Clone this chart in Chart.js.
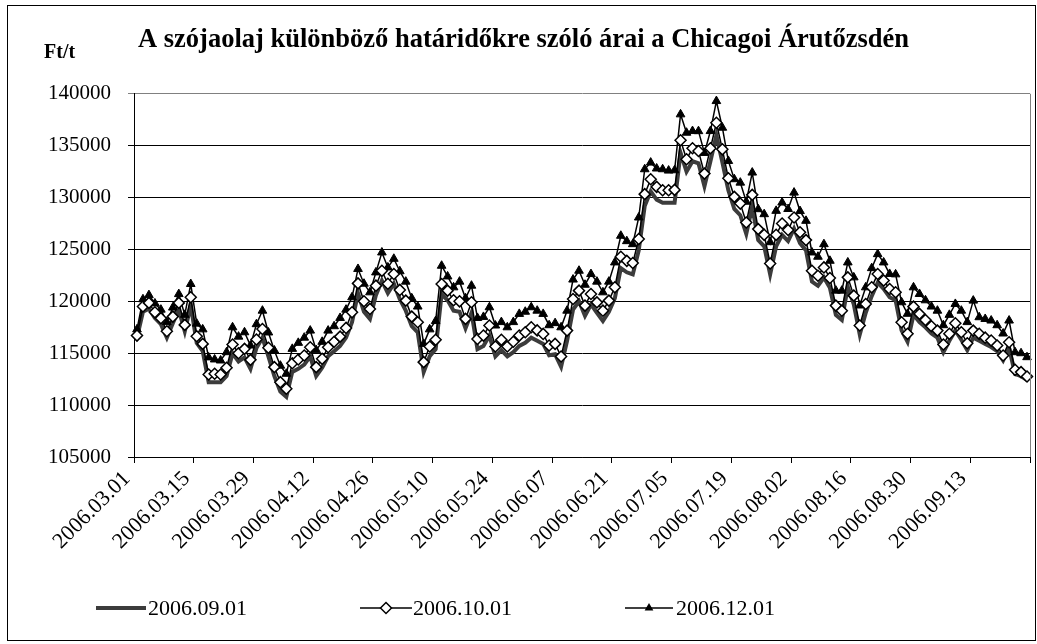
<!DOCTYPE html>
<html>
<head>
<meta charset="utf-8">
<title>Szójaolaj határidős árak</title>
<script src="https://cdn.jsdelivr.net/npm/chart.js@4.4.0/dist/chart.umd.min.js"></script>
<style>
  html, body { margin: 0; padding: 0; background: #fff; }
  canvas { display: block; }
</style>
</head>
<body>
<canvas id="chart" width="1037" height="644"></canvas>
<script>
const FONT = "'Liberation Serif', 'Times New Roman', serif";

// trading days (weekdays) from 2006.03.01, 150 of them
const dates = [];
(function () {
    const d = new Date(Date.UTC(2006, 2, 1));
    const pad = n => (n < 10 ? '0' : '') + n;
    while (dates.length < 150) {
        const wd = d.getUTCDay();
        if (wd !== 0 && wd !== 6) {
            dates.push(d.getUTCFullYear() + '.' + pad(d.getUTCMonth() + 1) + '.' + pad(d.getUTCDate()));
        }
        d.setUTCDate(d.getUTCDate() + 1);
    }
})();

const seriesNames = ['2006.09.01', '2006.10.01', '2006.12.01'];

// Ft/t
const sep01 = [
    116500, 119000, 119300, 118400, 117800, 116500, 117900, 119200, 117100, 119600,
    116000, 115200, 112200, 112200, 112200, 112800, 115000, 114200, 114600, 113500,
    115500, 116500, 114700, 112800, 111300, 110800, 113200, 113500, 113900, 114700,
    112800, 113600, 114700, 115200, 115700, 116500, 118000, 120800, 119000, 118300,
    120600, 122000, 120800, 121700, 120200, 119100, 117600, 117000, 113200, 114700,
    115400, 120700, 120100, 119100, 119000, 117400, 118900, 115400, 115700, 116700,
    114700, 115300, 114700, 115100, 115700, 116000, 116500, 116200, 115900, 114800,
    114900, 113700, 116200, 119200, 120000, 118600, 119700, 118900, 118100, 119000,
    120300, 123200, 122800, 122600, 124900, 129200, 130600, 129800, 129500, 129500,
    129500, 134300, 132500, 133500, 133300, 131100, 133500, 136000, 133400, 130700,
    128900, 128300, 126500, 129100, 125900, 125300, 122600, 125300, 126400, 125800,
    127000, 125600, 124900, 121900, 121500, 122300, 121300, 118700, 118200, 121400,
    119700, 116800, 118900, 120500, 121800, 121200, 120400, 120100, 117200, 116100,
    118700, 118000, 117500, 116900, 116500, 115100, 116200, 117200, 116300, 115300,
    116500, 116200, 115900, 115600, 115200, 114300, 115500, 113000, 112800, 112400
];

const oct01 = [
    116700, 119500, 119850, 118940, 118370, 117120, 118530, 119850, 117730, 120390,
    116640, 115900, 112950, 113020, 112950, 113600, 115840, 115000, 115420, 114360,
    116320, 117340, 115520, 113660, 112210, 111580, 114040, 114400, 114780, 115580,
    113660, 114460, 115580, 116100, 116600, 117440, 118940, 121730, 120000, 119270,
    121510, 122940, 121700, 122640, 121100, 120070, 118530, 117980, 114140, 115650,
    116290, 121670, 121030, 120100, 120000, 118310, 119910, 116380, 116700, 117670,
    115650, 116290, 115650, 116100, 116700, 117020, 117500, 117200, 116860, 115740,
    115900, 114680, 117180, 120230, 121030, 119590, 120710, 119900, 119100, 120070,
    121350, 124300, 123900, 123700, 126000, 130330, 131770, 131030, 130710, 130700,
    130740, 135520, 133690, 134750, 134490, 132310, 134750, 137210, 134650, 131860,
    130070, 129420, 127600, 130260, 126960, 126410, 123650, 126410, 127500, 126870,
    128080, 126650, 125900, 122950, 122470, 123270, 122250, 119590, 119100, 122310,
    120550, 117670, 119750, 121350, 122640, 122000, 121190, 120870, 117980, 116870,
    119490, 118790, 118200, 117600, 117180, 115840, 116870, 117890, 117020, 115960,
    117180, 116870, 116500, 116220, 115740, 114780, 116060, 113400, 113180, 112760
];

const dec01 = [
    117300, 120200, 120600, 119800, 119200, 118000, 119400, 120700, 118700, 121670,
    117850, 117300, 114600, 114400, 114300, 115100, 117500, 116600, 117020, 115740,
    117800, 119100, 117000, 115260, 113800, 113020, 115420, 116000, 116500, 117180,
    115300, 116100, 117180, 117600, 118400, 119200, 120390, 123120, 121700, 120870,
    122790, 124710, 123270, 124100, 122900, 121900, 120300, 119500, 115900, 117300,
    118100, 123430, 122400, 121350, 121900, 120300, 121510, 118400, 118500, 119430,
    117670, 118000, 117500, 118000, 118790, 119000, 119430, 119100, 118790, 117700,
    117900, 117500, 119100, 122100, 122950, 121600, 122630, 121900, 120870, 121900,
    123750, 126320, 125800, 125510, 128080, 132730, 133370, 132800, 132730, 132600,
    132630, 138020, 136250, 136410, 136400, 134300, 136410, 139300, 136730, 133530,
    131770, 131440, 129600, 132410, 128880, 128400, 125700, 128720, 129520, 128900,
    130480, 128700, 127760, 124710, 124300, 125510, 123910, 121030, 121030, 123750,
    122310, 119600, 121350, 123200, 124550, 123750, 122640, 122600, 119910, 118800,
    121350, 120710, 120100, 119500, 119100, 117700, 118700, 119750, 119100, 118000,
    120070, 118470, 118300, 118150, 117700, 116900, 118150, 115100, 115000, 114620
];

const yMin = 105000;
const yMax = 140000;
const yStep = 5000;
const labelEvery = 10;

const titleText = 'A szójaolaj különböző határidőkre szóló árai a Chicagoi Árutőzsdén';
const unitText = 'Ft/t';

// frame, unit label, plot border and the legend row
const decorPlugin = {
    id: 'decor',
    afterDraw(chart) {
        const ctx = chart.ctx;
        const a = chart.chartArea;
        ctx.save();

        ctx.strokeStyle = '#808080';
        ctx.lineWidth = 1;
        ctx.beginPath();
        ctx.moveTo(Math.round(a.right) + 0.5, a.top);
        ctx.lineTo(Math.round(a.right) + 0.5, a.bottom);
        ctx.stroke();

        ctx.strokeStyle = '#000';
        ctx.strokeRect(7.5, 5.5, 1028, 635);

        ctx.fillStyle = '#000';
        ctx.font = 'bold 20px ' + FONT;
        ctx.textAlign = 'left';
        ctx.textBaseline = 'middle';
        ctx.fillText(unitText, 44, 53);

        const ly = 608;
        const items = [
            { x0: 96, x1: 146, tx: 148 },
            { x0: 360, x1: 412, tx: 413 },
            { x0: 625, x1: 673, tx: 676 }
        ];
        chart.data.datasets.forEach((ds, i) => {
            const it = items[i];
            ctx.strokeStyle = ds.borderColor;
            ctx.lineWidth = ds.borderWidth;
            ctx.beginPath();
            ctx.moveTo(it.x0, ly);
            ctx.lineTo(it.x1, ly);
            ctx.stroke();
            const mx = (it.x0 + it.x1) / 2;
            if (ds.pointStyle === 'rectRot') {
                const r = ds.pointRadius;
                ctx.beginPath();
                ctx.moveTo(mx, ly - r);
                ctx.lineTo(mx + r, ly);
                ctx.lineTo(mx, ly + r);
                ctx.lineTo(mx - r, ly);
                ctx.closePath();
                ctx.fillStyle = ds.pointBackgroundColor;
                ctx.fill();
                ctx.lineWidth = ds.pointBorderWidth;
                ctx.strokeStyle = ds.pointBorderColor;
                ctx.stroke();
            } else if (ds.pointStyle === 'triangle') {
                const r = ds.pointRadius;
                ctx.beginPath();
                ctx.moveTo(mx, ly - r);
                ctx.lineTo(mx + r * 0.87, ly + r * 0.5);
                ctx.lineTo(mx - r * 0.87, ly + r * 0.5);
                ctx.closePath();
                ctx.fillStyle = ds.pointBackgroundColor;
                ctx.fill();
            }
            ctx.fillStyle = '#000';
            ctx.font = '22px ' + FONT;
            ctx.fillText(ds.label, it.tx, ly + 1);
        });
        ctx.restore();
    }
};

new Chart(document.getElementById('chart'), {
    type: 'line',
    data: {
        labels: dates,
        datasets: [
            {
                label: seriesNames[0],
                data: sep01,
                borderColor: '#3c3c3c',
                borderWidth: 4,
                pointRadius: 0,
                tension: 0,
                order: 2
            },
            {
                label: seriesNames[1],
                data: oct01,
                borderColor: '#000',
                borderWidth: 1.5,
                pointStyle: 'rectRot',
                pointRadius: 5.5,
                pointBackgroundColor: '#fff',
                pointBorderColor: '#000',
                pointBorderWidth: 1.5,
                tension: 0,
                order: 0
            },
            {
                label: seriesNames[2],
                data: dec01,
                borderColor: '#000',
                borderWidth: 1.5,
                pointStyle: 'triangle',
                pointRadius: 5,
                pointBackgroundColor: '#000',
                pointBorderColor: '#000',
                pointBorderWidth: 1,
                tension: 0,
                order: 1
            }
        ]
    },
    options: {
        responsive: false,
        animation: false,
        devicePixelRatio: 1,
        layout: { padding: { left: 16, right: 6, top: 0, bottom: 0 } },
        plugins: {
            legend: { display: false },
            tooltip: { enabled: false },
            title: {
                display: true,
                text: titleText,
                color: '#000',
                font: { family: FONT, size: 26.5, weight: 'bold' },
                padding: { top: 24, bottom: 38 }
            }
        },
        scales: {
            x: {
                type: 'category',
                offset: true,
                grid: {
                    offset: true,
                    drawOnChartArea: false,
                    tickLength: 6,
                    lineWidth: 1,
                    color: ctx => (ctx.type !== 'tick' || ctx.index % labelEvery === 0) ? '#000' : 'rgba(0,0,0,0)'
                },
                border: { color: '#000', width: 1 },
                ticks: {
                    autoSkip: false,
                    maxRotation: 45,
                    minRotation: 45,
                    padding: 3,
                    labelOffset: -10,
                    color: '#000',
                    font: { family: FONT, size: 22 },
                    callback: (v, i) => (i % labelEvery === 0 ? dates[i] : '')
                },
                afterFit: s => {
                    s.height = 187;
                    s.paddingRight = 0;
                    s.paddingLeft = 0;
                }
            },
            y: {
                min: yMin,
                max: yMax,
                grid: {
                    tickLength: 6,
                    lineWidth: 1,
                    color: ctx => (ctx.tick && ctx.tick.value === yMax) ? '#808080' : '#000'
                },
                border: { color: '#000', width: 1 },
                ticks: {
                    stepSize: yStep,
                    padding: 17,
                    color: '#000',
                    font: { family: FONT, size: 21 },
                    callback: v => String(v)
                },
                afterFit: s => { s.width = 118; }
            }
        }
    },
    plugins: [decorPlugin]
});
</script>
</body>
</html>
